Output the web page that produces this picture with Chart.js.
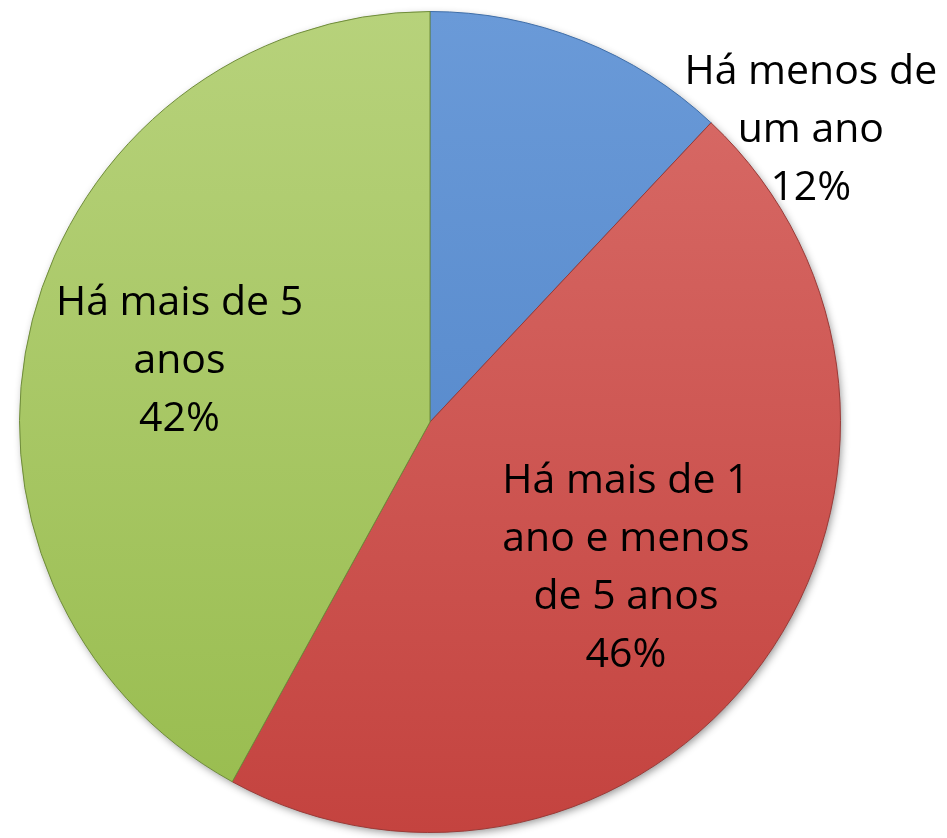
<!DOCTYPE html>
<html>
<head>
<meta charset="utf-8">
<script src="https://cdn.jsdelivr.net/npm/chart.js@4"></script>
<style>
  html, body { margin: 0; padding: 0; background: #fff; }
  #wrap { width: 947px; height: 838px; }
</style>
</head>
<body>
<div id="wrap"><canvas id="chart"></canvas></div>
<script>
const labels = ["Há menos de um ano", "Há mais de 1 ano e menos de 5 anos", "Há mais de 5 anos"];
const labelLines = [
    ["Há menos de", "um ano"],
    ["Há mais de 1", "ano e menos", "de 5 anos"],
    ["Há mais de 5", "anos"]
];
const values = [12, 46, 42];

const topColors = ["#6a9ad8", "#d96d69", "#b7d27b"];
const bottomColors = ["#4a7fc4", "#c4433f", "#98bc4e"];
const edgeColors = ["#3f6ea8", "#9a3a37", "#6f8c3a"];

// label placement: distance from centre (fraction of radius), extra turn in degrees
const labelDist = [1.174, 0.59, 0.63];
const labelTurn = [30.6, 0, 0];

function sliceFill(context) {
    const chart = context.chart;
    const i = context.dataIndex;
    const area = chart.chartArea;
    if (!area) return bottomColors[i];
    const g = chart.ctx.createLinearGradient(0, area.top, 0, area.bottom);
    g.addColorStop(0, topColors[i]);
    g.addColorStop(1, bottomColors[i]);
    return g;
}

const shadowPlugin = {
    id: "shadow",
    beforeDatasetsDraw(chart) {
        const arc = chart.getDatasetMeta(0).data[0];
        if (!arc) return;
        const ctx = chart.ctx;
        ctx.save();
        ctx.shadowColor = "rgba(0,0,0,0.45)";
        ctx.shadowBlur = 8;
        ctx.shadowOffsetX = 2;
        ctx.shadowOffsetY = 3;
        ctx.fillStyle = "#888";
        ctx.beginPath();
        ctx.arc(arc.x, arc.y, arc.outerRadius - 1, 0, Math.PI * 2);
        ctx.fill();
        ctx.restore();
    }
};

const labelPlugin = {
    id: "sliceLabels",
    afterDatasetsDraw(chart) {
        const ctx = chart.ctx;
        const meta = chart.getDatasetMeta(0);
        const total = values.reduce((a, b) => a + b, 0);
        ctx.save();
        ctx.font = "41px 'Open Sans'";
        ctx.fillStyle = "#000";
        ctx.textAlign = "center";
        ctx.textBaseline = "middle";
        meta.data.forEach((arc, i) => {
            const mid = (arc.startAngle + arc.endAngle) / 2 + labelTurn[i] * Math.PI / 180;
            const r = arc.outerRadius * labelDist[i];
            const cx = arc.x + Math.cos(mid) * r;
            const cy = arc.y + Math.sin(mid) * r + 4;
            const lines = labelLines[i].concat([Math.round(values[i] / total * 100) + "%"]);
            const lh = 58;
            const y0 = cy - (lines.length - 1) * lh / 2;
            lines.forEach((t, k) => ctx.fillText(t, cx, y0 + k * lh));
        });
        ctx.restore();
    }
};

new Chart(document.getElementById("chart"), {
    type: "pie",
    data: {
        labels: labels,
        datasets: [{
            data: values,
            backgroundColor: sliceFill,
            borderColor: edgeColors,
            borderWidth: 1
        }]
    },
    options: {
        responsive: true,
        maintainAspectRatio: false,
        animation: false,
        layout: { padding: { left: 19, right: 106, top: 11, bottom: 5 } },
        plugins: {
            legend: { display: false },
            tooltip: { enabled: false }
        }
    },
    plugins: [shadowPlugin, labelPlugin]
});
</script>
</body>
</html>
